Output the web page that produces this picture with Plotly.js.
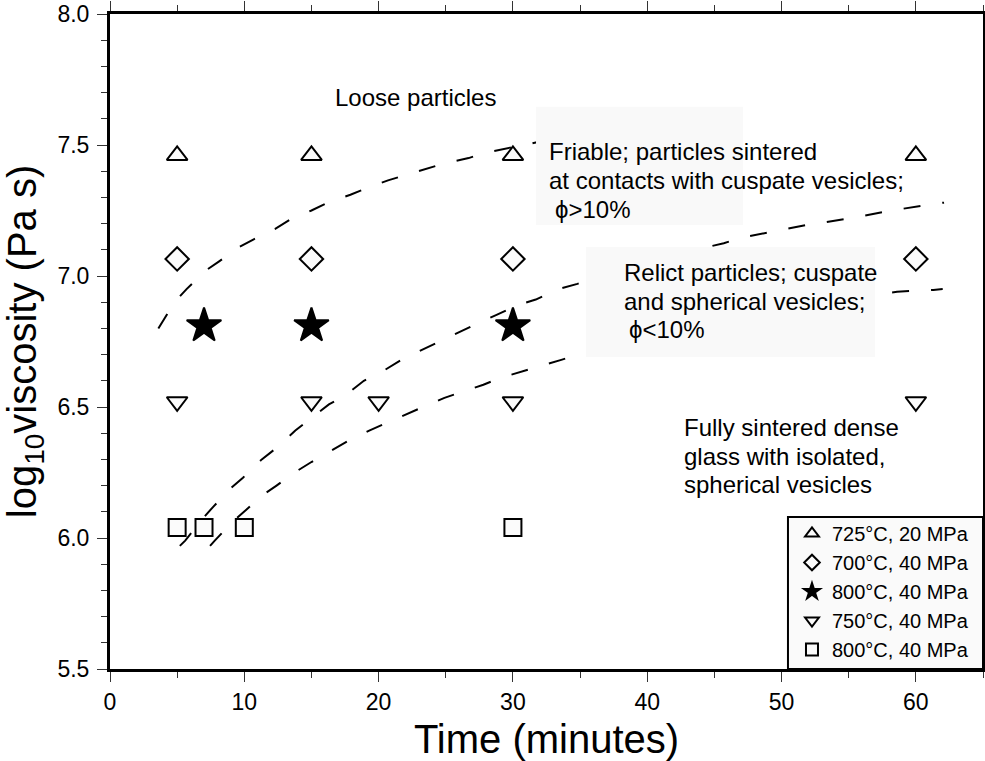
<!DOCTYPE html>
<html>
<head>
<meta charset="utf-8">
<script src="https://cdn.plot.ly/plotly-3.0.1.min.js"></script>
<style>html,body{margin:0;padding:0;background:#fff;}#chart{width:985px;height:761px;}</style>
</head>
<body>
<div id="chart"></div>
<script>
// ---- data ----
const seriesNames = ["725°C, 20 MPa", "700°C, 40 MPa", "800°C, 40 MPa", "750°C, 40 MPa", "800°C, 40 MPa"];
const tri725_x = [5, 15, 30, 60];
const tri725_y = [7.46, 7.46, 7.46, 7.46];
const dia700_x = [5, 15, 30, 60];
const dia700_y = [7.065, 7.065, 7.065, 7.065];
const star800_x = [7, 15, 30];
const star800_y = [6.81, 6.81, 6.81];
const inv750_x = [5, 15, 20, 30, 60];
const inv750_y = [6.52, 6.52, 6.52, 6.52, 6.52];
const sq800_x = [5, 7, 10, 30];
const sq800_y = [6.04, 6.04, 6.04, 6.04];

// boundary curves (dashed)
const curve1_x = [3.6, 4.8, 5.7, 7.1, 8.1, 9.6, 10.7, 12.3, 13.4, 15.0, 16.2, 17.9, 19.1, 20.7, 22.0, 23.7, 24.9, 26.7, 27.9, 29.8, 30.9, 33.0, 35.0];
const curve1_y = [6.80, 6.90, 6.95, 7.02, 7.055, 7.11, 7.14, 7.18, 7.215, 7.25, 7.28, 7.31, 7.335, 7.365, 7.385, 7.41, 7.43, 7.45, 7.47, 7.49, 7.50, 7.525, 7.55];
const curve2_x = [5.2, 5.6, 7.0, 7.7, 9.0, 9.9, 11.3, 12.3, 13.8, 14.8, 16.3, 17.4, 18.9, 20.1, 21.7, 22.9, 24.5, 25.7, 27.4, 28.7, 30.4, 31.7, 33.4, 34.8, 38.0, 41.5, 45.7, 46.9, 48.8, 51.9, 55.1, 58.2, 61.3, 62.1];
const curve2_y = [5.97, 5.99, 6.08, 6.12, 6.19, 6.23, 6.30, 6.34, 6.41, 6.45, 6.51, 6.54, 6.60, 6.63, 6.68, 6.71, 6.75, 6.78, 6.82, 6.85, 6.89, 6.91, 6.95, 6.97, 7.025, 7.075, 7.125, 7.145, 7.165, 7.195, 7.22, 7.25, 7.275, 7.28];
const curve3_x = [7.45, 7.8, 9.1, 10.1, 11.4, 12.4, 13.9, 15.0, 16.5, 17.7, 19.3, 20.4, 22.1, 23.3, 24.9, 26.1, 27.8, 29.0, 30.7, 32.0, 33.6, 34.9, 40, 45, 50, 55, 57.7, 58.6, 61.3, 62.0];
const curve3_y = [5.97, 5.99, 6.06, 6.105, 6.165, 6.20, 6.255, 6.29, 6.335, 6.37, 6.41, 6.435, 6.475, 6.50, 6.535, 6.555, 6.585, 6.61, 6.635, 6.655, 6.68, 6.70, 6.77, 6.83, 6.875, 6.915, 6.935, 6.94, 6.947, 6.95];

const xTickVals = [0, 10, 20, 30, 40, 50, 60];
const xTickText = ["0", "10", "20", "30", "40", "50", "60"];
const yTickVals = [5.5, 6.0, 6.5, 7.0, 7.5, 8.0];
const yTickText = ["5.5", "6.0", "6.5", "7.0", "7.5", "8.0"];

const regionLoose = ["Loose particles"];
const regionFriable = ["Friable; particles sintered", "at contacts with cuspate vesicles;", "ϕ>10%"];
const regionRelict = ["Relict particles; cuspate", "and spherical vesicles;", "ϕ<10%"];
const regionDense = ["Fully sintered dense", "glass with isolated,", "spherical vesicles"];

// ---- styling ----
const FONT = "Liberation Sans, Arial, Helvetica, sans-serif";
const fill = "#fbfbfb";
function mk(x, y, name, symbol, size, color) {
  return {x: x, y: y, name: name, type: "scatter", mode: "markers",
    marker: {symbol: symbol, size: size, color: color, line: {color: "#000", width: 2}}};
}
function dashed(x, y) {
  return {x: x, y: y, type: "scatter", mode: "lines", showlegend: false, hoverinfo: "skip",
    line: {color: "#000", width: 2, dash: "17px,22px"}};
}
const traces = [
  mk(tri725_x, tri725_y, seriesNames[0], "triangle-up", 18, fill),
  mk(dia700_x, dia700_y, seriesNames[1], "diamond", 18, fill),
  mk(star800_x, star800_y, seriesNames[2], "star", 26, "#000"),
  mk(inv750_x, inv750_y, seriesNames[3], "triangle-down", 18, fill),
  mk(sq800_x, sq800_y, seriesNames[4], "square", 17, fill),
  dashed(curve1_x, curve1_y),
  dashed(curve2_x, curve2_y),
  dashed(curve3_x, curve3_y)
];

function lineAnn(x, y, t) {
  return {x: x, y: y, text: t, xref: "x", yref: "y", xanchor: "left", yanchor: "middle",
    showarrow: false, font: {family: FONT, size: 24, color: "#000"}};
}
const annotations = [
  lineAnn(16.6, 7.68, regionLoose[0]),
  lineAnn(32.56, 7.474, regionFriable[0]),
  lineAnn(32.56, 7.365, regionFriable[1]),
  lineAnn(33.0, 7.255, regionFriable[2]),
  lineAnn(38.10, 7.012, regionRelict[0]),
  lineAnn(38.10, 6.904, regionRelict[1]),
  lineAnn(38.47, 6.796, regionRelict[2]),
  lineAnn(42.56, 6.420, regionDense[0]),
  lineAnn(42.56, 6.312, regionDense[1]),
  lineAnn(42.56, 6.206, regionDense[2])
];

const shapes = [
  // light label boxes (hide curves underneath, as in the original)
  {type: "rect", xref: "x", yref: "y", x0: 31.72, x1: 47.13, y0: 7.195, y1: 7.646,
   fillcolor: "#f9f9f9", line: {width: 0}, layer: "above"},
  {type: "rect", xref: "x", yref: "y", x0: 35.44, x1: 56.96, y0: 6.691, y1: 7.111,
   fillcolor: "#f9f9f9", line: {width: 0}, layer: "above"},
  // legend frame
  {type: "rect", xref: "paper", yref: "paper", x0: 0.7766, x1: 1.0, y0: 0, y1: 0.232,
   fillcolor: "#fafafa", line: {color: "#000", width: 2}, layer: "above"}
];

function axisBase() {
  return {
    showgrid: false, zeroline: false, showline: true, linecolor: "#000", linewidth: 3,
    mirror: "ticks", ticks: "outside", ticklen: 10, tickwidth: 1, tickcolor: "#333",
    tickfont: {family: FONT, size: 23, color: "#000"}, automargin: false
  };
}

const layout = {
  width: 985, height: 761,
  margin: {l: 110, r: 2, t: 14, b: 92},
  paper_bgcolor: "#fff", plot_bgcolor: "#fff",
  font: {family: FONT, size: 23, color: "#000"},
  showlegend: true,
  legend: {x: 0.7812, xanchor: "left", y: 0, yanchor: "bottom", bgcolor: "rgba(0,0,0,0)",
    borderwidth: 0, itemsizing: "constant",
    font: {family: FONT, size: 20, color: "#000"}},
  xaxis: Object.assign(axisBase(), {
    range: [0, 65], tickmode: "array", tickvals: xTickVals, ticktext: xTickText,
    minor: {dtick: 5, ticklen: 6, tickwidth: 1, tickcolor: "#333", ticks: "outside"},
    title: {text: "Time (minutes)", font: {family: FONT, size: 40, color: "#000"}}
  }),
  yaxis: Object.assign(axisBase(), {
    range: [5.5, 8.0], tickmode: "array", tickvals: yTickVals, ticktext: yTickText,
    ticklabelstandoff: 3,
    minor: {dtick: 0.1, ticklen: 6, tickwidth: 1, tickcolor: "#333", ticks: "outside"},
    title: {text: "log<sub>10</sub>viscosity (Pa s)", font: {family: FONT, size: 40, color: "#000"}}
  }),
  annotations: annotations,
  shapes: shapes
};

Plotly.newPlot("chart", traces, layout, {displayModeBar: false, staticPlot: true});
</script>
</body>
</html>
